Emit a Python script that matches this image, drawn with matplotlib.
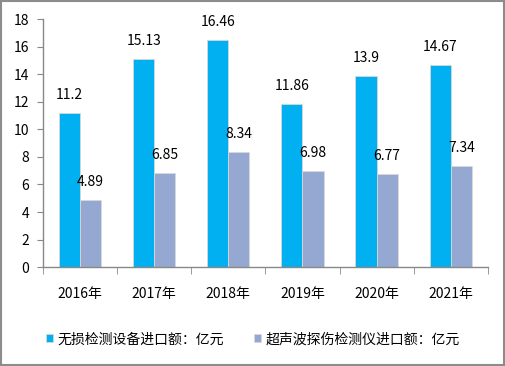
import matplotlib
matplotlib.use("Agg")
import matplotlib.pyplot as plt
import numpy as np
from matplotlib.patches import Rectangle

plt.rcParams['font.family'] = ['Noto Sans CJK SC', 'DejaVu Sans']

years = ['2016年', '2017年', '2018年', '2019年', '2020年', '2021年']
ndt_import = [11.2, 15.13, 16.46, 11.86, 13.9, 14.67]
ultra_import = [4.89, 6.85, 8.34, 6.98, 6.77, 7.34]
ndt_labels = ['11.2', '15.13', '16.46', '11.86', '13.9', '14.67']
ultra_labels = ['4.89', '6.85', '8.34', '6.98', '6.77', '7.34']
series_names = ['无损检测设备进口额：亿元', '超声波探伤检测仪进口额：亿元']
yticks = [0, 2, 4, 6, 8, 10, 12, 14, 16, 18]

c1 = '#00B0F0'
c2 = '#95A8D1'

fig = plt.figure(figsize=(5.06, 3.66), dpi=100)
fig.patches.append(Rectangle((0.002, 0.004), 0.994, 0.992, transform=fig.transFigure,
                             fill=False, edgecolor='#8c8c8c', linewidth=1.5))
ax = fig.add_axes([0.085, 0.270, 0.879, 0.678])

x = np.arange(len(years))
w = 0.285
b1 = ax.bar(x - w/2, ndt_import, w, color=c1, edgecolor='#d8d8d8', linewidth=0.6, label=series_names[0])
b2 = ax.bar(x + w/2, ultra_import, w, color=c2, edgecolor='#d8d8d8', linewidth=0.6, label=series_names[1])

for xi, v, t in zip(x, ndt_import, ndt_labels):
    ax.text(xi - w/2, v + 1.3, t, ha='center', va='center', fontsize=10, color='black')
for xi, v, t in zip(x, ultra_import, ultra_labels):
    ax.text(xi + w/2, v + 1.3, t, ha='center', va='center', fontsize=10, color='black')

ax.set_xlim(-0.5, len(years) - 0.5)
ax.set_ylim(0, 18)
ax.set_yticks(yticks)
ax.set_yticklabels([str(v) for v in yticks], fontsize=10)
ax.set_xticks(x)
ax.set_xticklabels(years, fontsize=10)
ax.tick_params(axis='x', length=0, pad=14)
ax.set_xticks(np.arange(-0.5, len(years)), minor=True)
ax.tick_params(axis='x', which='minor', length=5, color='#888888', direction='out')
ax.tick_params(axis='y', length=4, color='#888888', direction='out', pad=6)

for s in ['top', 'right']:
    ax.spines[s].set_visible(False)
for s in ['left', 'bottom']:
    ax.spines[s].set_color('#888888')
    ax.spines[s].set_linewidth(1.0)

fig.legend(handles=[b1, b2], labels=series_names, loc='center', bbox_to_anchor=(0.5, 0.073),
           ncol=2, frameon=False, fontsize=10, handlelength=0.5, handleheight=0.5,
           handletextpad=0.3, columnspacing=2.2)

fig.savefig('out.png', dpi=100)
